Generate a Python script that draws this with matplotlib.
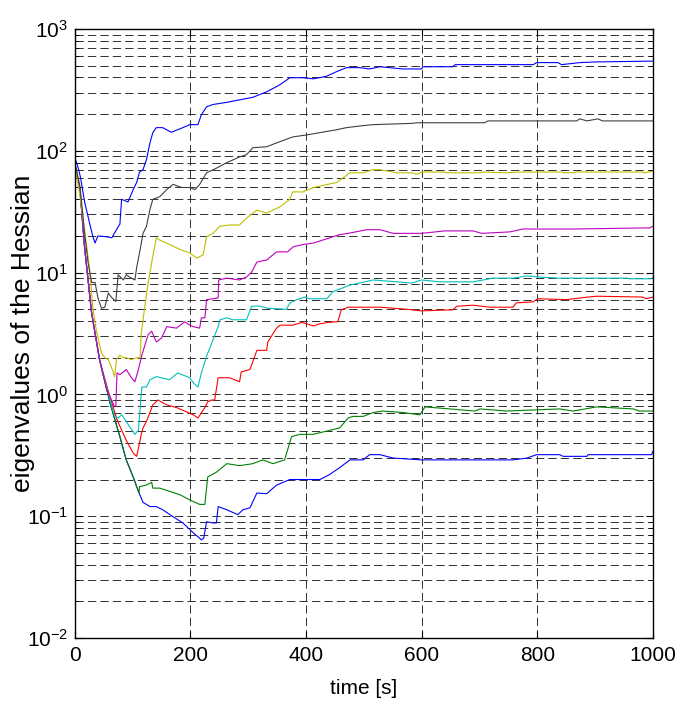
import matplotlib
matplotlib.use("Agg")
import matplotlib.pyplot as plt
from matplotlib import ticker
import numpy as np

t_blue_lo = [0, 9, 17, 29, 43, 61, 78, 89, 101, 109, 118, 130, 141, 152, 170, 187, 205, 219, 223, 228,
             239, 245, 248, 263, 282, 291, 303, 315, 332, 349, 372, 401, 424, 441, 458, 476, 499, 510,
             528, 551, 600, 649, 758, 782, 799, 839, 845, 886, 888, 998, 1000]
v_blue_lo = [78, 48, 16, 4.7, 1.9, 0.85, 0.45, 0.29, 0.21, 0.165, 0.13, 0.12, 0.12, 0.113, 0.099, 0.088,
             0.073, 0.064, 0.066, 0.09, 0.088, 0.088, 0.12, 0.113, 0.103, 0.113, 0.117, 0.155, 0.153,
             0.18, 0.2, 0.2, 0.2, 0.22, 0.25, 0.29, 0.29, 0.32, 0.32, 0.30, 0.29, 0.29, 0.29, 0.30, 0.32,
             0.32, 0.31, 0.31, 0.32, 0.32, 0.34]

t_green = [0, 9, 17, 29, 43, 61, 78, 89, 101, 109, 111, 112, 124, 133, 135, 147, 164, 182, 199, 216, 225,
           230, 245, 263, 285, 308, 325, 343, 363, 375, 389, 412, 436, 458, 473, 481, 499, 516, 533, 568,
           597, 606, 649, 692, 701, 747, 839, 862, 903, 966, 977, 1000]
v_green = [78, 48, 16, 4.7, 1.9, 0.85, 0.45, 0.29, 0.21, 0.165, 0.155, 0.175, 0.18, 0.19, 0.17, 0.17, 0.16,
           0.15, 0.136, 0.125, 0.125, 0.21, 0.23, 0.27, 0.26, 0.27, 0.29, 0.27, 0.29, 0.45, 0.47, 0.47,
           0.5, 0.53, 0.64, 0.66, 0.66, 0.71, 0.73, 0.71, 0.68, 0.79, 0.76, 0.73, 0.76, 0.73, 0.76, 0.73,
           0.79, 0.76, 0.73, 0.73]

t_red = [0, 9, 17, 29, 43, 61, 73, 89, 101, 107, 109, 115, 118, 124, 135, 144, 159, 176, 193, 205, 213,
         225, 230, 237, 242, 248, 268, 285, 288, 303, 315, 332, 334, 349, 355, 377, 393, 413, 424, 438,
         455, 461, 473, 499, 528, 574, 600, 654, 661, 689, 718, 758, 764, 793, 801, 851, 888, 903, 982,
         989, 1000]
v_red = [78, 48, 16, 4.7, 1.9, 0.95, 0.62, 0.42, 0.33, 0.31, 0.34, 0.47, 0.53, 0.6, 0.82, 0.9, 0.82, 0.78,
         0.72, 0.68, 0.64, 0.78, 0.87, 0.9, 0.9, 1.37, 1.37, 1.27, 1.53, 1.6, 2.3, 2.3, 2.7, 3.5, 3.7, 3.7,
         3.9, 3.65, 3.8, 3.9, 3.95, 4.95, 5.2, 5.2, 5.2, 5.0, 4.85, 4.95, 5.3, 5.4, 5.2, 5.2, 5.65, 5.75,
         6.1, 6.0, 6.3, 6.4, 6.3, 6.1, 6.3]

t_cyan = [0, 9, 17, 29, 43, 61, 69, 75, 81, 87, 95, 104, 110, 116, 124, 130, 141, 164, 178, 199, 205, 213,
          219, 228, 239, 248, 251, 263, 273, 297, 306, 320, 334, 366, 372, 384, 398, 406, 436, 447, 464,
          476, 502, 516, 557, 583, 600, 631, 689, 723, 758, 782, 804, 839, 955, 960, 998, 1000]
v_cyan = [78, 48, 16, 4.7, 1.9, 0.9, 0.66, 0.64, 0.68, 0.62, 0.54, 0.47, 0.51, 1.15, 1.15, 1.32, 1.4, 1.32,
          1.5, 1.37, 1.25, 1.15, 1.5, 2.05, 2.8, 3.6, 4.1, 4.25, 4.1, 4.1, 5.3, 5.3, 5.1, 5.0, 5.6, 6.0,
          6.3, 6.1, 6.1, 7.0, 7.5, 7.9, 8.4, 8.7, 8.4, 8.2, 8.7, 8.4, 8.4, 9.0, 9.0, 9.4, 9.2, 9.0, 9.0,
          8.9, 8.9, 9.2]

t_magenta = [0, 9, 17, 29, 43, 55, 69, 71, 73, 78, 89, 98, 104, 110, 116, 127, 133, 141, 150, 159, 176,
             190, 199, 205, 216, 219, 225, 228, 239, 248, 249, 263, 285, 297, 306, 315, 332, 349, 368,
             378, 395, 413, 441, 458, 473, 505, 528, 551, 600, 640, 689, 704, 753, 775, 862, 995, 1000]
v_magenta = [78, 48, 16, 4.7, 1.93, 1.1, 0.79, 0.8, 1.5, 1.45, 1.6, 1.37, 1.27, 1.6, 2.1, 3.1, 3.3, 2.7,
             2.9, 3.6, 3.5, 3.95, 3.7, 3.6, 3.5, 4.25, 4.25, 6.0, 6.1, 6.2, 8.7, 9.0, 8.7, 9.2, 10.1,
             12.2, 12.7, 14.8, 14.8, 16.3, 17, 17.5, 19.3, 20.5, 21, 22.5, 22.5, 21, 21, 22, 22, 21,
             21.6, 22.8, 22.8, 23.3, 24]

t_yellow = [0, 9, 17, 26, 31, 38, 46, 52, 58, 63, 69, 72, 78, 84, 89, 98, 107, 113, 115, 121, 125, 130,
            136, 141, 147, 164, 182, 199, 211, 216, 222, 228, 239, 251, 268, 285, 297, 315, 332, 355,
            372, 377, 395, 413, 453, 476, 499, 516, 528, 557, 583, 592, 600, 637, 643, 701, 706, 744,
            775, 842, 845, 862, 868, 981, 986, 1000]
v_yellow = [78, 42, 22, 10.5, 5.2, 3.2, 2.2, 2.0, 1.93, 1.69, 1.4, 1.93, 2.1, 2.0, 2.0, 1.93, 2.0, 2.0,
            3.2, 5.2, 7.2, 10, 14.5, 19.3, 18.5, 17, 15.5, 14.5, 13.2, 13.5, 14, 19.7, 21, 24, 24.6,
            24.6, 28, 32.6, 30.8, 34.7, 40, 46, 46, 50, 55, 66, 66, 70, 70, 66, 66, 64, 67, 67, 66, 66,
            67, 66, 67, 67, 66, 66, 67, 67, 66, 68]

t_black = [0, 9, 17, 23, 29, 35, 40, 46, 52, 58, 63, 71, 75, 84, 89, 98, 104, 107, 113, 118, 124, 130,
           135, 147, 159, 170, 185, 199, 208, 216, 228, 245, 263, 285, 297, 308, 332, 355, 377, 401, 424,
           453, 470, 499, 516, 583, 592, 709, 715, 868, 874, 886, 905, 913, 1000]
v_black = [80, 51, 21, 12, 8.3, 8.3, 6.2, 5.1, 5.2, 6.8, 6.3, 5.8, 9.6, 8.7, 9.6, 9.0, 8.7, 11, 15.4, 21,
           24, 33, 40, 42, 48, 53, 50, 50, 48, 53, 66, 72, 80, 89, 93, 106, 108, 119, 130, 135, 141, 149,
           155, 161, 164, 168, 170, 170, 176, 176, 183, 176, 183, 176, 176]

t_blue_hi = [0, 6, 10, 17, 26, 31, 35, 40, 55, 64, 72, 78, 81, 92, 101, 107, 112, 118, 124, 130, 135, 141,
             152, 167, 187, 199, 213, 219, 228, 239, 263, 285, 308, 332, 355, 372, 395, 413, 436, 453,
             470, 493, 510, 528, 568, 600, 602, 654, 658, 793, 799, 836, 842, 874, 903, 1000]
v_blue_hi = [88, 72, 60, 38, 25, 20, 17.5, 20, 19.7, 19.3, 22.5, 25, 40, 38, 48, 55, 67, 70, 85, 116, 141,
             155, 155, 142, 155, 164, 164, 198, 230, 240, 250, 262, 275, 305, 349, 398, 398, 390, 410,
             447, 482, 482, 470, 490, 470, 470, 490, 490, 510, 510, 530, 530, 510, 530, 537, 545]

series = [
    (t_blue_lo, v_blue_lo, "#0000ff"),
    (t_green, v_green, "#008000"),
    (t_red, v_red, "#ff0000"),
    (t_cyan, v_cyan, "#00bfbf"),
    (t_magenta, v_magenta, "#bf00bf"),
    (t_yellow, v_yellow, "#bfbf00"),
    (t_black, v_black, "#404040"),
    (t_blue_hi, v_blue_hi, "#0000ff"),
]

plt.rcParams["font.family"] = ["Liberation Sans", "DejaVu Sans"]
plt.rcParams["mathtext.fontset"] = "custom"
plt.rcParams["mathtext.rm"] = "Liberation Sans"

fig = plt.figure(figsize=(6.8, 7.13), dpi=100)
ax = fig.add_axes([0.110, 0.1052, 0.850, 0.8541])

for t, v, c in series:
    ax.plot(t, v, color=c, linewidth=0.8)

ax.set_yscale("log")
ax.set_xlim(0, 1000)
ax.set_ylim(1e-2, 1e3)
ax.set_xticks(np.arange(0, 1001, 200))
ax.yaxis.set_major_locator(ticker.LogLocator(base=10, numticks=10))
ax.yaxis.set_minor_locator(ticker.LogLocator(base=10, subs=np.arange(2, 10), numticks=20))
ax.yaxis.set_major_formatter(ticker.FuncFormatter(lambda y, _: r"$\mathregular{10^{%d}}$" % round(np.log10(y))))
ax.yaxis.set_minor_formatter(ticker.NullFormatter())

dash = (0, (8.5, 4.3))
ax.grid(True, which="both", axis="y", linestyle=dash, color="#1a1a1a", linewidth=0.7, alpha=0.9)
ax.grid(True, which="major", axis="x", linestyle=dash, color="#1a1a1a", linewidth=0.7, alpha=0.9)

ax.tick_params(which="both", direction="in", top=True, right=True, labelsize=15)
ax.tick_params(which="major", length=5, width=0.8)
ax.tick_params(which="minor", length=3, width=0.6)
ax.tick_params(axis="x", pad=6)
ax.tick_params(axis="y", pad=5)
for s in ax.spines.values():
    s.set_linewidth(1.0)

ax.set_xlabel("time [s]", fontsize=15)
ax.xaxis.set_label_coords(0.5, -0.067)
ax.set_ylabel("eigenvalues of the Hessian", fontsize=19)
ax.yaxis.set_label_coords(-0.068, 0.5)

fig.savefig("out.png", dpi=100)
